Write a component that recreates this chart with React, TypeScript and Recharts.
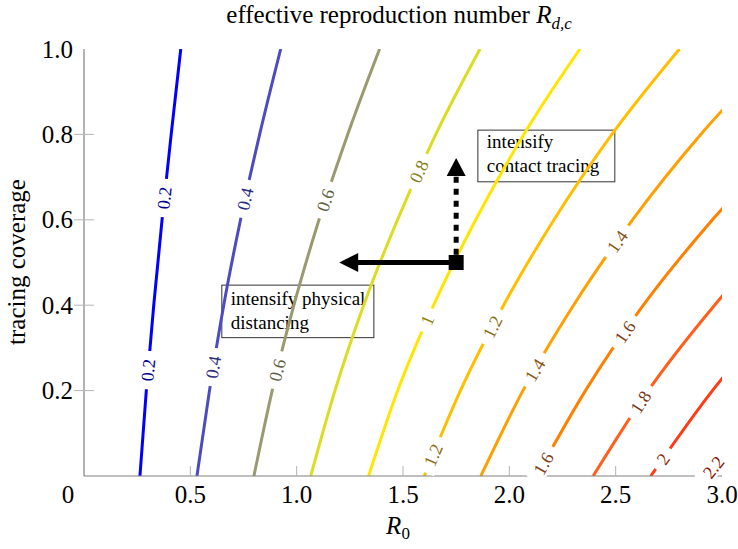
import React from 'react';
import {
  LineChart,
  Line,
  XAxis,
  YAxis,
  ReferenceDot,
  ReferenceLine,
  ReferenceArea,
} from 'recharts';

const COVERAGE = [0, 0.2, 0.4, 0.6, 0.8, 1.0];

const LEVELS = ['0.2', '0.4', '0.6', '0.8', '1', '1.2', '1.4', '1.6', '1.8', '2', '2.2'];

// R0 along each contour, one value per COVERAGE entry (lines leave the plot past R0 = 3)
const R0_AT_02 = [0.263, 0.293, 0.328, 0.367, 0.41, 0.455];
const R0_AT_04 = [0.531, 0.59, 0.657, 0.736, 0.826, 0.925];
const R0_AT_06 = [0.799, 0.885, 0.987, 1.105, 1.24, 1.39];
const R0_AT_08 = [1.066, 1.18, 1.315, 1.474, 1.654, 1.862];
const R0_AT_10 = [1.338, 1.475, 1.644, 1.842, 2.068, 2.332];
const R0_AT_12 = [1.6, 1.77, 1.973, 2.21, 2.482, 2.8];
const R0_AT_14 = [1.866, 2.064, 2.302, 2.579, 2.9, 3.28];
const R0_AT_16 = [2.128, 2.358, 2.63, 2.955, 3.33];
const R0_AT_18 = [2.394, 2.653, 2.965, 3.33];
const R0_AT_20 = [2.665, 2.955, 3.3];
const R0_AT_22 = [2.926, 3.25];

const CONTOUR_R0 = [
  R0_AT_02, R0_AT_04, R0_AT_06, R0_AT_08, R0_AT_10, R0_AT_12,
  R0_AT_14, R0_AT_16, R0_AT_18, R0_AT_20, R0_AT_22,
];

// coverage at which the inline labels sit on each contour
const LABEL_COVERAGE = [
  [0.651, 0.248],
  [0.649, 0.255],
  [0.646, 0.248],
  [0.713],
  [0.365],
  [0.349, 0.049],
  [0.549, 0.248],
  [0.337, 0.029],
  [0.173],
  [0.04],
  [0.021],
];

const X_TICKS = [0, 0.5, 1, 1.5, 2, 2.5, 3];
const X_TICK_LABELS = ['0', '0.5', '1.0', '1.5', '2.0', '2.5', '3.0'];
const Y_TICKS = [0, 0.2, 0.4, 0.6, 0.8, 1];
const Y_TICK_LABELS = ['', '0.2', '0.4', '0.6', '0.8', '1.0'];

// annotation: current point and the two directions
const POINT = { r0: 1.75, cov: 0.5 };
const DISTANCING_TIP = 1.2;
const TRACING_TIP = 0.745;

const LINE_COLORS = [
  '#0000ff', '#4c4cc0', '#9a9a70', '#dcdc22', '#ffe600', '#ffbf00',
  '#ffa000', '#ff8000', '#ff5f1a', '#ff3a14', '#ff1a00',
];
const LABEL_COLORS = [
  '#00008c', '#2e2e80', '#5e5e40', '#84841a', '#8a7a00', '#8a6a10',
  '#8a5410', '#804018', '#7a3010', '#8a1f0a', '#8a1000',
];

const FONT = '"Liberation Serif", "Times New Roman", serif';
const WIDTH = 738;
const HEIGHT = 549;
const PLOT_W = 638;
const PLOT_H = 427;
const X_MAX = 3;

const AXIS_GREY = '#808080';
const FRAME_DARK = '#555555';
const TICK_GREY = '#b4b4b4';

function placeLabel(r0s: number[], cov: number) {
  const i = Math.min(Math.floor(cov / 0.2 + 1e-9), r0s.length - 2);
  const t = (cov - COVERAGE[i]) / (COVERAGE[i + 1] - COVERAGE[i]);
  const r0 = r0s[i] + t * (r0s[i + 1] - r0s[i]);
  const slope = (r0s[i + 1] - r0s[i]) / (COVERAGE[i + 1] - COVERAGE[i]);
  const angle = (Math.atan2(-PLOT_H, (slope * PLOT_W) / X_MAX) * 180) / Math.PI;
  return { r0, angle };
}

function textWidth(s: string, size: number) {
  return s.split('').reduce((w, ch) => w + (ch === '.' ? 0.25 : 0.5) * size, 0);
}

function ContourLabel(props: any) {
  const { cx, cy, text, angle, color } = props;
  const w = textWidth(text, 18) + 16;
  return (
    <g transform={`translate(${cx},${cy}) rotate(${angle})`}>
      <rect x={-w / 2} y={-9} width={w} height={18} fill="#fff" />
      <text
        x={0}
        y={0}
        dy="0.34em"
        textAnchor="middle"
        style={{ fontSize: 18, fontFamily: FONT }}
        fill={color}
      >
        {text}
      </text>
    </g>
  );
}

function BottomTick(props: any) {
  const { x, y, payload } = props;
  const idx = X_TICKS.indexOf(payload.value);
  const isCorner = payload.value === 0;
  return (
    <g>
      {!isCorner && payload.value !== X_MAX && (
        <line x1={x} x2={x} y1={y} y2={y - 10} stroke={TICK_GREY} />
      )}
      <text
        x={isCorner ? x - 16 : x}
        y={y + 27}
        textAnchor="middle"
        style={{ fontSize: 25, fontFamily: FONT }}
        fill="#000"
      >
        {X_TICK_LABELS[idx]}
      </text>
    </g>
  );
}

function TopTick(props: any) {
  const { x, y, payload } = props;
  if (payload.value === 0 || payload.value === X_MAX) return <g />;
  return <line x1={x} x2={x} y1={y} y2={y + 10} stroke={TICK_GREY} />;
}

function LeftTick(props: any) {
  const { x, y, payload } = props;
  const idx = Y_TICKS.indexOf(payload.value);
  if (payload.value === 0) return <g />;
  return (
    <g>
      {payload.value !== 1 && <line x1={x - 10} x2={x + 10} y1={y} y2={y} stroke={TICK_GREY} />}
      <text
        x={x - 11}
        y={y}
        dy="0.34em"
        textAnchor="end"
        style={{ fontSize: 25, fontFamily: FONT }}
        fill="#000"
      >
        {Y_TICK_LABELS[idx]}
      </text>
    </g>
  );
}

function RightTick(props: any) {
  const { x, y, payload } = props;
  if (payload.value === 0 || payload.value === 1) return <g />;
  return <line x1={x - 10} x2={x} y1={y} y2={y} stroke={TICK_GREY} />;
}

function NoteBox(lines: string[], firstBaseline: number) {
  return (props: any) => {
    const { x, y, width, height } = props;
    return (
      <g>
        <rect x={x} y={y} width={width} height={height} fill="#fff" stroke="#333" strokeWidth={1} />
        {lines.map((l, i) => (
          <text
            key={l}
            x={x + 9}
            y={y + firstBaseline + i * 24}
            style={{ fontSize: 19, fontFamily: FONT }}
            fill="#000"
          >
            {l}
          </text>
        ))}
      </g>
    );
  };
}

export default function App() {
  const series = CONTOUR_R0.map((r0s) => r0s.map((r0, i) => ({ r0, cov: COVERAGE[i] })));

  const labels = LABEL_COVERAGE.flatMap((covs, li) =>
    covs.map((cov) => ({ li, cov, ...placeLabel(CONTOUR_R0[li], cov) })),
  );

  const textStyle = { fontSize: 25, fontFamily: FONT };

  return (
    <div style={{ position: 'absolute', left: 0, top: 0, width: WIDTH, height: HEIGHT, background: '#fff' }}>
      <LineChart
        width={WIDTH}
        height={HEIGHT}
        margin={{ top: 49, right: 16, bottom: 43, left: 20 }}
      >
        <XAxis
          type="number"
          dataKey="r0"
          domain={[0, X_MAX]}
          allowDataOverflow
          ticks={X_TICKS}
          tick={<BottomTick />}
          tickLine={false}
          tickSize={0}
          tickMargin={0}
          axisLine={{ stroke: AXIS_GREY, strokeWidth: 1.2 }}
          height={30}
        />
        <XAxis
          xAxisId="top"
          orientation="top"
          type="number"
          dataKey="r0"
          domain={[0, X_MAX]}
          allowDataOverflow
          ticks={X_TICKS}
          tick={<TopTick />}
          tickLine={false}
          tickSize={0}
          tickMargin={0}
          axisLine={{ stroke: FRAME_DARK, strokeWidth: 1.2 }}
          height={0}
        />
        <YAxis
          type="number"
          domain={[0, 1]}
          allowDataOverflow
          ticks={Y_TICKS}
          tick={<LeftTick />}
          tickLine={false}
          tickSize={0}
          tickMargin={0}
          axisLine={{ stroke: AXIS_GREY, strokeWidth: 1.2 }}
          width={64}
        />
        <YAxis
          yAxisId="right"
          orientation="right"
          type="number"
          domain={[0, 1]}
          allowDataOverflow
          ticks={Y_TICKS}
          tick={<RightTick />}
          tickLine={false}
          tickSize={0}
          tickMargin={0}
          axisLine={{ stroke: FRAME_DARK, strokeWidth: 1.2 }}
          width={0}
        />

        {series.map((data, i) => (
          <Line
            key={LEVELS[i]}
            data={data}
            dataKey="cov"
            type="monotone"
            stroke={LINE_COLORS[i]}
            strokeWidth={3}
            dot={false}
            activeDot={false}
            isAnimationActive={false}
          />
        ))}

        {labels.map((lb) => (
          <ReferenceDot
            key={`${lb.li}-${lb.cov}`}
            x={lb.r0}
            y={lb.cov}
            r={0}
            shape={(p: any) => (
              <ContourLabel
                cx={p.cx}
                cy={p.cy}
                text={LEVELS[lb.li]}
                angle={lb.angle}
                color={LABEL_COLORS[lb.li]}
              />
            )}
          />
        ))}

        {/* intensify physical distancing: move left */}
        <ReferenceLine
          segment={[
            { x: POINT.r0, y: POINT.cov },
            { x: DISTANCING_TIP + 0.08, y: POINT.cov },
          ]}
          stroke="#000"
          strokeWidth={5}
        />
        <ReferenceDot
          x={DISTANCING_TIP}
          y={POINT.cov}
          r={0}
          shape={(p: any) => (
            <polygon
              points={`${p.cx},${p.cy} ${p.cx + 19},${p.cy - 9.5} ${p.cx + 19},${p.cy + 9.5}`}
              fill="#000"
            />
          )}
        />
        {/* intensify contact tracing: move up */}
        <ReferenceLine
          segment={[
            { x: POINT.r0, y: POINT.cov + 0.018 },
            { x: POINT.r0, y: TRACING_TIP - 0.04 },
          ]}
          stroke="#000"
          strokeWidth={5}
          strokeDasharray="6 6"
        />
        <ReferenceDot
          x={POINT.r0}
          y={TRACING_TIP}
          r={0}
          shape={(p: any) => (
            <polygon
              points={`${p.cx},${p.cy} ${p.cx - 9.5},${p.cy + 18} ${p.cx + 9.5},${p.cy + 18}`}
              fill="#000"
            />
          )}
        />
        <ReferenceDot
          x={POINT.r0}
          y={POINT.cov}
          r={0}
          shape={(p: any) => <rect x={p.cx - 7.5} y={p.cy - 7.5} width={15} height={15} fill="#000" />}
        />

        <ReferenceArea
          x1={1.852}
          x2={2.496}
          y1={0.689}
          y2={0.81}
          shape={NoteBox(['intensify', 'contact tracing'], 18)}
        />
        <ReferenceArea
          x1={0.648}
          x2={1.363}
          y1={0.324}
          y2={0.447}
          shape={NoteBox(['intensify physical', 'distancing'], 20)}
        />
      </LineChart>

      <svg
        width={WIDTH}
        height={HEIGHT}
        style={{ position: 'absolute', left: 0, top: 0, pointerEvents: 'none' }}
      >
        <text x={399} y={23} textAnchor="middle" style={textStyle} fill="#000">
          effective reproduction number <tspan fontStyle="italic">R</tspan>
          <tspan fontStyle="italic" fontSize={17} dy={6}>
            d,c
          </tspan>
        </text>
        <text
          transform="rotate(-90)"
          x={-262}
          y={25}
          textAnchor="middle"
          style={textStyle}
          fill="#000"
        >
          tracing coverage
        </text>
        <text x={398} y={534} textAnchor="middle" style={textStyle} fill="#000">
          <tspan fontStyle="italic">R</tspan>
          <tspan fontSize={17} dy={5}>
            0
          </tspan>
        </text>
      </svg>
    </div>
  );
}
